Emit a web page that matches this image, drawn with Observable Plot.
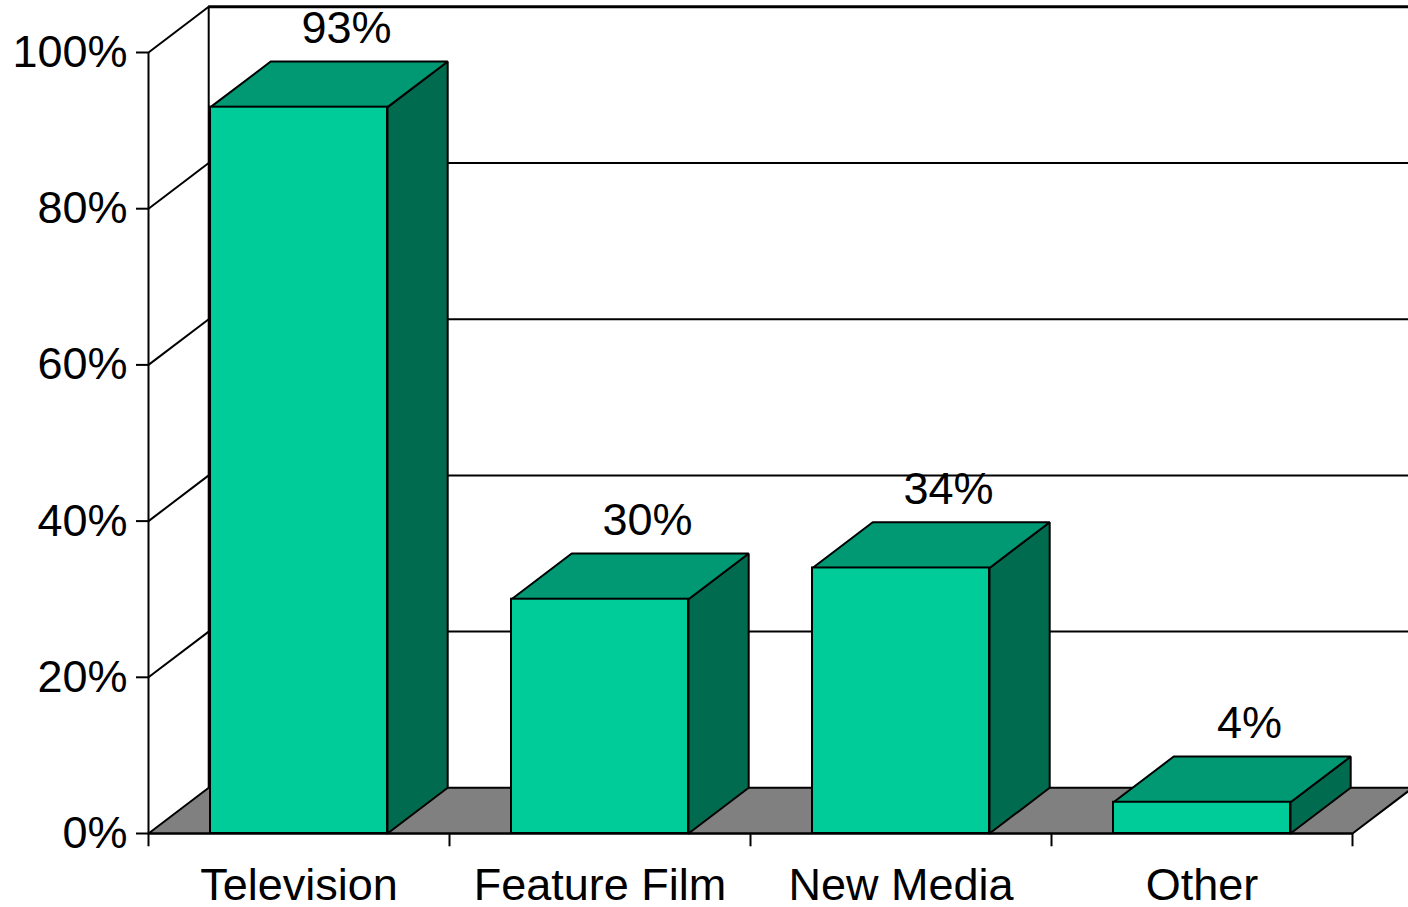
<!DOCTYPE html>
<html>
<head>
<meta charset="utf-8">
<script src="https://cdn.jsdelivr.net/npm/d3@7"></script>
<script src="https://cdn.jsdelivr.net/npm/@observablehq/plot@0.6"></script>
<style>
  html, body { margin: 0; padding: 0; background: #fff; }
  #chart svg [aria-label="y-axis tick"] { stroke-width: 2px; }
  #chart svg .tick line { stroke-width: 2px; }
</style>
</head>
<body>
<div id="chart"></div>
<script>
// ---- data ----
const categories = ["Television", "Feature Film", "New Media", "Other"];
const values = [93, 30, 34, 4];
const yTicks = [0, 20, 40, 60, 80, 100];

// ---- 3D geometry (in scale units) ----
const DX = 0.2;      // depth along x (category units)
const DY = 5.85;     // depth along y (percent units)
const BAR = 0.588;   // front-face width as fraction of a category
const N = categories.length;

const bars = categories.map((c, i) => {
  const x0 = i + (1 - BAR) / 2, x1 = i + (1 + BAR) / 2, v = values[i];
  return {c, i, v, x0, x1};
});

const sides = bars.flatMap(b => [
  [b.x1, 0], [b.x1 + DX, DY], [b.x1 + DX, b.v + DY], [b.x1, b.v], [b.x1, 0]
].map(([x, y]) => ({id: b.c, x, y})));

const tops = bars.flatMap(b => [
  [b.x0, b.v], [b.x1, b.v], [b.x1 + DX, b.v + DY], [b.x0 + DX, b.v + DY], [b.x0, b.v]
].map(([x, y]) => ({id: b.c, x, y})));

const floor = [[0, 0], [N, 0], [N + DX, DY], [DX, DY], [0, 0]].map(([x, y]) => ({x, y}));

const chart = Plot.plot({
  width: 1408,
  height: 907,
  marginLeft: 148,
  marginRight: 56,
  marginTop: 52,
  marginBottom: 74,
  style: {
    fontFamily: "'Liberation Sans', Arial, Helvetica, sans-serif",
    fontSize: "45px",
    background: "white",
    color: "black",
    overflow: "visible"
  },
  x: {
    domain: [0, N],
    ticks: categories.map((c, i) => i + 0.5),
    tickFormat: d => categories[Math.floor(d)],
    tickSize: 0,
    tickPadding: 35,
    label: null
  },
  y: {
    domain: [0, 100],
    ticks: yTicks,
    tickFormat: d => d + "%",
    tickSize: 12,
    tickPadding: 9,
    label: null
  },
  marks: [
    // back wall gridlines
    Plot.ruleY(yTicks.filter(t => t > 0), {
      y: t => t + DY, x1: DX, x2: N + DX + 0.1,
      stroke: "black", strokeWidth: t => t === 100 ? 3 : 2
    }),
    // back wall left edge
    Plot.ruleX([DX], {y1: DY, y2: 100 + DY, stroke: "black", strokeWidth: 2}),
    // left side wall diagonals
    Plot.link(yTicks.filter(t => t > 0), {
      x1: 0, y1: t => t, x2: DX, y2: t => t + DY, stroke: "black", strokeWidth: 2
    }),
    // floor
    Plot.line(floor, {x: "x", y: "y", fill: "#808080", stroke: "black", strokeWidth: 2, strokeLinejoin: "miter"}),
    // bar side faces
    Plot.line(sides, {x: "x", y: "y", z: "id", fill: "#006B4F", stroke: "black", strokeWidth: 2, strokeLinejoin: "miter"}),
    // bar top faces
    Plot.line(tops, {x: "x", y: "y", z: "id", fill: "#009973", stroke: "black", strokeWidth: 2, strokeLinejoin: "miter"}),
    // bar front faces
    Plot.rect(bars, {x1: "x0", x2: "x1", y1: 0, y2: "v", fill: "#00CC99", stroke: "black", strokeWidth: 2}),
    // y axis line
    Plot.ruleX([0], {y1: 0, y2: 100, stroke: "black", strokeWidth: 2}),
    // x axis line and category boundary ticks
    Plot.ruleY([0], {x1: 0, x2: N, stroke: "black", strokeWidth: 2}),
    Plot.ruleX(d3.range(N + 1), {y1: 0, y2: -1.7, stroke: "black", strokeWidth: 2}),
    // value labels
    Plot.text(bars, {
      x: b => b.i + 0.5 + 0.158,
      y: b => b.v + DY + 4.2,
      text: b => b.v + "%",
      fontSize: 45,
      fill: "black",
      textAnchor: "middle"
    })
  ]
});

document.getElementById("chart").appendChild(chart);
</script>
</body>
</html>
